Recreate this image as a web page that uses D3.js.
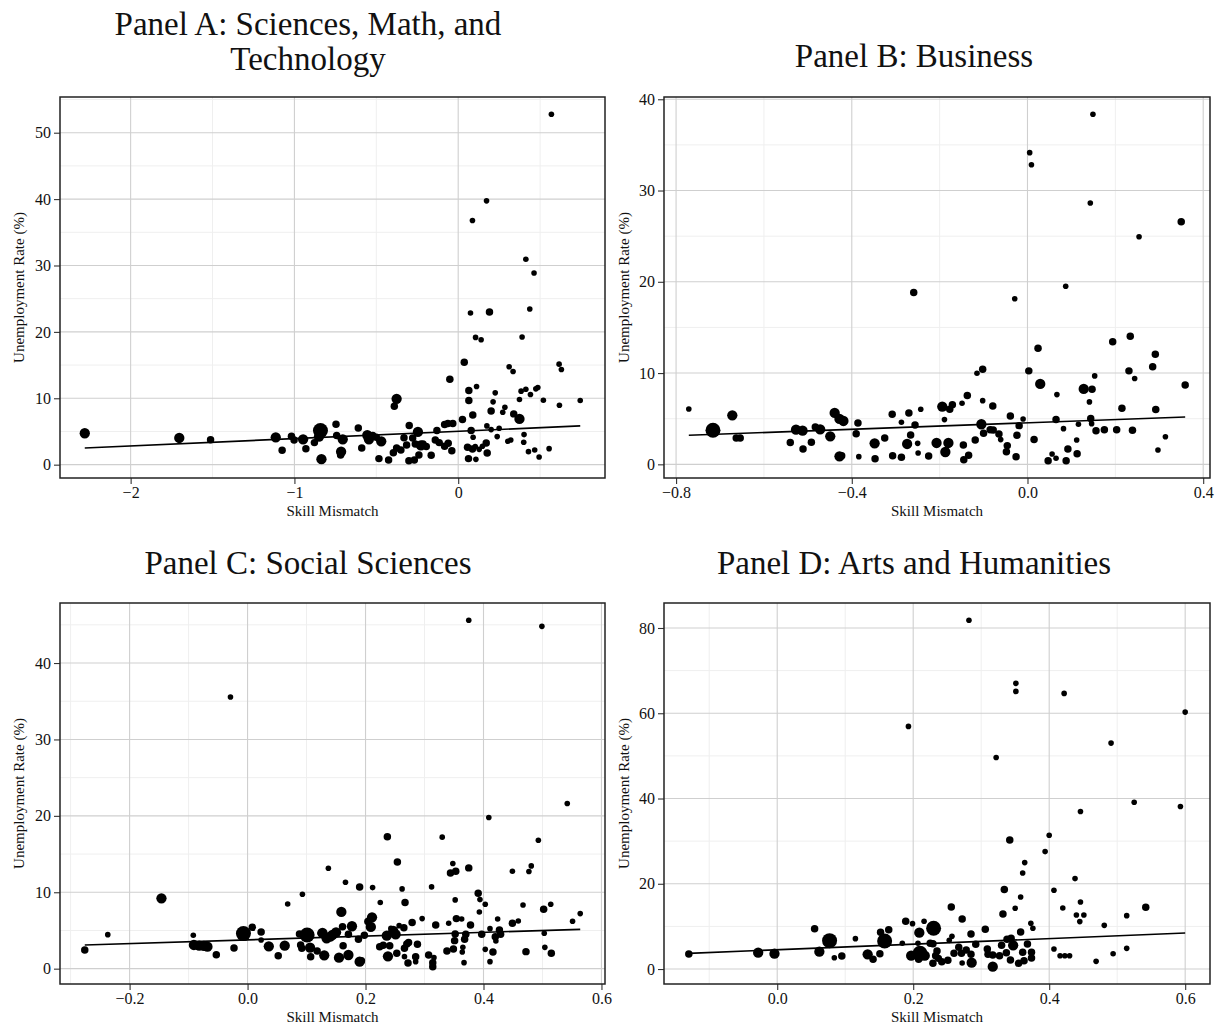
<!DOCTYPE html>
<html>
<head>
<meta charset="utf-8">
<script src="https://cdn.jsdelivr.net/npm/d3@7"></script>
<style>
  html, body { margin: 0; padding: 0; background: #fff; }
  svg { display: block; }
  text { font-family: "Liberation Serif", "DejaVu Serif", serif; fill: #111; }
</style>
</head>
<body>
<svg id="chart" width="1217" height="1025"></svg>
<script>
// ---------------- DATA ----------------
// each point: [skill mismatch, unemployment rate (%), relative weight]
const titles = [
  ["Panel A: Sciences, Math, and", "Technology"],
  ["Panel B: Business"],
  ["Panel C: Social Sciences"],
  ["Panel D: Arts and Humanities"]
];
const xAxisTitle = "Skill Mismatch";
const yAxisTitle = "Unemployment Rate (%)";

const xTicksA = [-2, -1, 0];
const yTicksA = [0, 10, 20, 30, 40, 50];
const xTicksB = [-0.8, -0.4, 0.0, 0.4];
const yTicksB = [0, 10, 20, 30, 40];
const xTicksC = [-0.2, 0.0, 0.2, 0.4, 0.6];
const yTicksC = [0, 10, 20, 30, 40];
const xTicksD = [0.0, 0.2, 0.4, 0.6];
const yTicksD = [0, 20, 40, 60, 80];

// fitted lines: [intercept, slope]
const fitA = [5.02, 1.097];
const fitB = [4.55, 1.779];
const fitC = [3.77, 2.44];
const fitD = [4.53, 6.53];

const pointsA = [
  [-2.28,4.73,2.5],[-1.703,4.02,2.5],[-1.512,3.77,1.6],[-1.114,4.12,2.5],[-1.075,2.16,1.6],
  [-1.018,4.28,1.6],[-1.002,3.72,1.6],[-0.947,3.82,2.5],[-0.930,2.41,1.6],[-0.878,3.32,1.6],
  [-0.841,5.13,4],[-0.850,4.23,2.5],[-0.835,0.82,2.5],[-0.746,6.09,1.6],[-0.742,4.38,1.6],
  [-0.705,3.82,2.5],[-0.715,1.96,2.5],[-0.718,1.46,1.6],[-0.610,5.53,1.6],[-0.589,2.52,1.6],
  [-0.555,4.43,2.5],[-0.545,3.82,2.5],[-0.522,4.38,1.6],[-0.500,4.12,1.6],[-0.470,3.52,2.5],
  [-0.484,0.91,1.6],[-0.425,0.70,1.6],[-0.396,1.81,1.6],[-0.376,2.52,1.6],[-0.376,9.91,2.5],
  [-0.390,8.80,1.6],[-0.350,2.21,1.6],[-0.331,4.07,1.6],[-0.315,2.97,1.6],[-0.299,5.89,1.6],
  [-0.301,0.60,1.6],[-0.278,4.02,1.6],[-0.268,0.70,1.6],[-0.262,3.12,1.6],[-0.246,4.93,2.5],
  [-0.240,1.46,1.6],[-0.228,2.92,2.5],[-0.215,3.12,1.6],[-0.195,2.72,1.6],[-0.165,1.41,1.6],
  [-0.140,3.72,1.6],[-0.130,5.13,1.6],[-0.116,3.32,1.6],[-0.083,2.77,1.6],[-0.061,3.22,1.6],
  [-0.039,2.11,1.6],[-0.083,6.04,1.6],[-0.063,6.19,1.6],[-0.033,6.19,1.6],[-0.051,12.88,1.6],
  [0.026,6.79,1.6],[0.037,15.44,1.6],[0.065,11.17,1.6],[0.065,9.66,1.6],[0.075,22.84,1],
  [0.087,36.77,1],[0.079,5.13,1.6],[0.091,4.12,1],[0.089,7.49,1.6],[0.057,2.62,1.6],
  [0.087,2.36,1.6],[0.104,2.72,1],[0.128,2.31,1],[0.148,2.77,1],[0.171,3.27,1.6],
  [0.177,1.76,1.6],[0.063,0.91,1.6],[0.108,0.80,1],[0.106,19.17,1],[0.112,11.77,1],
  [0.140,18.81,1],[0.173,39.74,1],[0.175,5.84,1],[0.191,22.99,1.6],[0.201,5.28,1],
  [0.201,8.10,1.6],[0.213,9.46,1],[0.226,10.82,1],[0.238,4.23,1],[0.250,5.48,1],
  [0.272,7.90,1],[0.285,8.65,1],[0.303,3.52,1],[0.321,3.72,1],[0.311,14.74,1],
  [0.335,14.03,1],[0.339,7.65,1.6],[0.374,6.89,2.5],[0.374,9.81,1],[0.384,11.07,1],
  [0.390,19.22,1],[0.400,3.37,1],[0.402,4.53,1],[0.413,11.37,1],[0.413,30.94,1],
  [0.429,1.96,1],[0.437,23.44,1],[0.441,10.56,1],[0.463,28.87,1],[0.467,2.21,1],
  [0.474,11.42,1],[0.486,11.62,1],[0.494,1.16,1],[0.520,9.71,1],[0.555,2.41,1],
  [0.569,52.77,1],[0.616,15.14,1],[0.630,14.34,1],[0.618,8.95,1],[0.745,9.66,1]
];

const pointsB = [
  [-0.771,6.07,1],[-0.716,3.73,4],[-0.672,5.37,2.5],[-0.663,2.89,1.6],[-0.654,2.89,1.6],
  [-0.540,2.38,1.6],[-0.527,3.80,2.5],[-0.512,3.69,2.5],[-0.511,1.68,1.6],[-0.492,2.41,1.6],
  [-0.483,4.10,1.6],[-0.472,3.84,2.5],[-0.449,3.07,2.5],[-0.439,5.63,2.5],[-0.428,4.97,2.5],
  [-0.419,4.75,2.5],[-0.428,0.88,2.5],[-0.423,0.95,1.6],[-0.390,3.36,1.6],[-0.386,4.53,1.6],
  [-0.384,0.84,1],[-0.348,2.30,2.5],[-0.347,0.62,1.6],[-0.325,2.89,1.6],[-0.308,5.48,1.6],
  [-0.307,0.95,1.6],[-0.287,4.61,1],[-0.287,0.77,1.6],[-0.274,2.23,2.5],[-0.270,5.63,1.6],
  [-0.266,3.22,1.6],[-0.259,18.83,1.6],[-0.256,4.31,1.6],[-0.250,2.30,1],[-0.249,1.24,1],
  [-0.243,6.03,1],[-0.225,0.91,1.6],[-0.207,2.34,2.5],[-0.194,6.33,2.5],[-0.189,4.90,1],
  [-0.187,1.35,2.5],[-0.180,2.34,2.5],[-0.177,6.03,1.6],[-0.171,6.54,1.6],[-0.149,6.69,1],
  [-0.146,2.12,1.6],[-0.145,0.51,1.6],[-0.137,7.53,1.6],[-0.134,0.99,1.6],[-0.119,2.67,1.6],
  [-0.115,9.98,1],[-0.102,10.42,1.6],[-0.102,6.98,1],[-0.105,4.39,2.5],[-0.100,3.40,1.6],
  [-0.085,3.80,1.6],[-0.078,3.77,1.6],[-0.079,6.40,1.6],[-0.065,3.33,1.6],[-0.061,2.71,1],
  [-0.048,1.39,1.6],[-0.046,2.05,1.6],[-0.039,5.30,1.6],[-0.029,18.14,1],[-0.026,0.84,1.6],
  [-0.024,3.18,1.6],[-0.019,4.24,1.6],[-0.010,4.97,1],[0.003,10.24,1.6],[0.005,34.15,1],
  [0.009,32.83,1],[0.015,2.71,1.6],[0.024,12.72,1.6],[0.029,8.81,2.5],[0.047,0.40,1.6],
  [0.056,1.13,1],[0.065,0.66,1],[0.065,4.90,1.6],[0.067,7.64,1],[0.082,3.91,1],
  [0.087,19.52,1],[0.088,0.40,1.6],[0.092,1.68,1.6],[0.112,2.67,1],[0.113,1.17,1.6],
  [0.116,4.39,1],[0.128,8.26,2.5],[0.141,6.84,1],[0.143,28.63,1],[0.144,5.01,1.6],
  [0.146,4.46,1],[0.147,8.23,1.6],[0.149,38.35,1],[0.153,9.69,1],[0.156,3.69,1.6],
  [0.175,3.80,1.6],[0.194,13.42,1.6],[0.203,3.80,1.6],[0.215,6.14,1.6],[0.231,10.24,1.6],
  [0.234,14.04,1.6],[0.239,3.73,1.6],[0.244,9.40,1],[0.254,24.94,1],[0.285,10.68,1.6],
  [0.291,12.07,1.6],[0.292,6.00,1.6],[0.297,1.57,1],[0.314,3.03,1],[0.350,26.58,1.6],
  [0.359,8.70,1.6]
];

const pointsC = [
  [-0.276,2.45,1.6],[-0.237,4.45,1],[-0.146,9.21,2.5],[-0.092,4.37,1],[-0.091,3.10,2.5],
  [-0.082,3.01,2.5],[-0.074,2.97,2.5],[-0.068,2.88,2.5],[-0.053,1.83,1.6],[-0.029,35.55,1],
  [-0.023,2.71,1.6],[-0.007,4.59,4],[0.008,5.41,1.6],[0.023,4.80,1.6],[0.023,3.76,1],
  [0.036,2.93,2.5],[0.052,1.70,1.6],[0.063,3.01,2.5],[0.068,8.47,1],[0.093,9.74,1],
  [0.088,4.54,1.6],[0.101,4.41,4],[0.090,3.10,1.6],[0.092,2.66,1.6],[0.106,2.75,2.5],
  [0.107,1.57,1.6],[0.118,2.31,1.6],[0.123,4.63,1],[0.127,4.67,2.5],[0.130,1.75,2.5],
  [0.134,3.97,2.5],[0.137,13.14,1],[0.140,4.19,2.5],[0.144,4.41,2.5],[0.150,4.76,2.5],
  [0.155,1.44,2.5],[0.159,7.42,2.5],[0.161,5.50,1.6],[0.162,3.01,1.6],[0.171,1.79,2.5],
  [0.171,4.50,1.6],[0.166,11.31,1],[0.177,5.55,2.5],[0.188,3.84,1.6],[0.190,10.70,1.6],
  [0.190,0.92,2.5],[0.193,1.05,1.6],[0.198,4.37,1.6],[0.204,6.16,1.6],[0.209,5.46,2.5],
  [0.211,6.72,2.5],[0.212,10.61,1],[0.225,8.65,1],[0.224,2.88,1.6],[0.230,3.06,1.6],
  [0.236,4.32,2.5],[0.238,1.62,2.5],[0.237,17.25,1.6],[0.241,3.01,1.6],[0.243,5.28,1],
  [0.247,4.93,2.5],[0.251,4.50,2.5],[0.254,13.97,1.6],[0.253,2.01,1.6],[0.257,5.63,1],
  [0.262,10.44,1],[0.265,5.37,1.6],[0.266,1.57,1],[0.267,8.65,1.6],[0.266,2.66,1.6],
  [0.270,3.23,1.6],[0.273,3.41,1.6],[0.272,0.74,1.6],[0.279,6.03,1.6],[0.285,1.57,1.6],
  [0.285,0.92,1],[0.288,3.19,1.6],[0.296,6.55,1],[0.307,1.79,1.6],[0.312,10.70,1],
  [0.314,0.79,1.6],[0.314,0.26,1.6],[0.316,1.44,1],[0.319,5.72,1.6],[0.330,17.21,1],
  [0.338,2.31,1.6],[0.341,5.94,1],[0.344,12.53,1.6],[0.348,13.76,1],[0.349,2.58,1.6],
  [0.352,9.00,1],[0.351,3.67,1.6],[0.353,12.75,1.6],[0.354,6.55,1.6],[0.352,4.54,1.6],
  [0.363,6.51,1],[0.365,2.79,1],[0.364,2.18,1],[0.367,0.79,1],[0.368,3.84,1.6],
  [0.370,4.50,1.6],[0.375,45.59,1],[0.375,13.19,1.6],[0.378,5.72,1.6],[0.391,9.87,1.6],
  [0.393,7.42,1],[0.394,9.04,1],[0.397,4.50,1.6],[0.403,2.53,1],[0.403,8.43,1],
  [0.409,19.78,1],[0.411,5.24,1],[0.411,0.92,1],[0.416,2.18,1.6],[0.420,4.19,1.6],
  [0.421,3.62,1],[0.424,6.51,1],[0.427,5.07,1.6],[0.429,4.50,1.6],[0.449,5.94,1.6],
  [0.449,12.75,1],[0.459,6.24,1],[0.467,8.34,1],[0.472,2.23,1.6],[0.477,12.71,1],
  [0.481,13.45,1],[0.493,16.81,1],[0.499,44.80,1],[0.502,7.77,1.6],[0.503,4.63,1],
  [0.504,2.79,1],[0.514,8.43,1],[0.515,2.01,1.6],[0.542,21.62,1],[0.551,6.20,1],
  [0.564,7.21,1]
];

const pointsD = [
  [-0.130,3.52,1.6],[-0.028,3.84,2.5],[-0.004,3.60,2.5],[0.055,9.47,1.6],[0.062,4.07,2.5],
  [0.077,6.65,4],[0.084,2.66,1],[0.095,3.05,1.6],[0.115,7.12,1],[0.133,3.44,2.5],
  [0.141,2.27,1.6],[0.151,3.60,1.6],[0.152,8.61,1.6],[0.158,6.58,4],[0.164,9.24,1.6],
  [0.184,6.03,1],[0.189,11.19,1.6],[0.193,56.91,1],[0.199,10.65,1],[0.197,3.13,2.5],
  [0.209,8.53,2.5],[0.207,6.03,1],[0.210,3.68,4],[0.208,2.27,1.6],[0.216,11.19,1],
  [0.217,3.13,2.5],[0.225,6.03,1.6],[0.229,5.95,1.6],[0.230,9.55,4],[0.233,3.13,1.6],
  [0.235,4.23,1.6],[0.229,1.33,1.6],[0.237,2.50,1.6],[0.242,1.72,1.6],[0.251,2.04,1.6],
  [0.253,6.73,1],[0.256,14.56,1.6],[0.257,7.67,1],[0.260,3.68,1.6],[0.267,5.09,1.6],
  [0.271,3.68,1.6],[0.272,11.74,1.6],[0.272,1.41,1],[0.278,4.46,1.6],[0.282,81.80,1],
  [0.285,3.44,1.6],[0.285,8.22,1.6],[0.286,1.49,2.5],[0.292,5.79,1.6],[0.306,9.31,1.6],
  [0.309,4.70,1.6],[0.310,3.44,1.6],[0.317,0.55,2.5],[0.317,3.29,1.6],[0.322,49.63,1],
  [0.327,3.13,1.6],[0.330,5.56,1.6],[0.332,12.92,1.6],[0.334,18.63,1.6],[0.337,3.84,1.6],
  [0.338,6.97,1.6],[0.342,30.29,1.6],[0.343,2.11,1.6],[0.344,7.20,1.6],[0.347,5.56,2.5],
  [0.350,14.25,1],[0.351,67.01,1],[0.351,65.13,1],[0.355,1.33,1.6],[0.358,8.69,1.6],
  [0.358,16.91,1],[0.361,22.54,1],[0.364,24.97,1],[0.361,3.91,1.6],[0.363,1.96,1.6],
  [0.368,5.87,1.6],[0.374,3.91,1.6],[0.374,2.58,1.6],[0.373,10.72,1],[0.376,9.55,1],
  [0.394,27.55,1],[0.400,31.39,1],[0.407,18.47,1],[0.407,4.70,1],[0.416,3.13,1],
  [0.420,14.32,1],[0.422,64.66,1],[0.423,3.13,1],[0.430,3.13,1],[0.438,21.21,1],
  [0.440,12.68,1],[0.445,11.12,1],[0.446,15.73,1],[0.446,36.95,1],[0.451,12.68,1],
  [0.469,1.80,1],[0.481,10.25,1],[0.491,53.00,1],[0.494,3.60,1],[0.514,12.52,1],
  [0.514,4.85,1],[0.525,39.14,1],[0.542,14.48,1.6],[0.593,38.12,1],[0.600,60.27,1]
];

// ---------------- LAYOUT ----------------
const panels = [
  { title: titles[0], pts: pointsA, fit: fitA, xTicks: xTicksA, yTicks: yTicksA, fmt: "d",
    box: { l: 60, r: 605, t: 97, b: 478 }, cx: 308, ty: [35, 70], yTitleX: 19 },
  { title: titles[1], pts: pointsB, fit: fitB, xTicks: xTicksB, yTicks: yTicksB, fmt: ".1f",
    box: { l: 664, r: 1210, t: 97, b: 478 }, cx: 914, ty: [67], yTitleX: 624 },
  { title: titles[2], pts: pointsC, fit: fitC, xTicks: xTicksC, yTicks: yTicksC, fmt: ".1f",
    box: { l: 60, r: 605, t: 603, b: 984 }, cx: 308, ty: [574], yTitleX: 19 },
  { title: titles[3], pts: pointsD, fit: fitD, xTicks: xTicksD, yTicks: yTicksD, fmt: ".1f",
    box: { l: 664, r: 1210, t: 603, b: 984 }, cx: 914, ty: [574], yTitleX: 624 }
];

const svg = d3.select("#chart");
const rScale = d3.scaleLinear().domain([1, 4]).range([2.8, 7.5]);

function expand(ext) {
  const pad = (ext[1] - ext[0]) * 0.05;
  return [ext[0] - pad, ext[1] + pad];
}
function minorTicks(major, domain) {
  const step = major[1] - major[0];
  const out = [];
  for (let v = major[0] - step / 2; v <= domain[1] + 1e-9; v += step) {
    if (v >= domain[0]) out.push(+v.toFixed(6));
  }
  return out;
}

panels.forEach(p => {
  const b = p.box;
  const xDom = expand(d3.extent(p.pts, d => d[0]));
  const yDom = expand(d3.extent(p.pts, d => d[1]));
  const x = d3.scaleLinear().domain(xDom).range([b.l, b.r]);
  const y = d3.scaleLinear().domain(yDom).range([b.b, b.t]);
  const g = svg.append("g");

  // minor grid
  const xMinor = minorTicks(p.xTicks, xDom);
  const yMinor = minorTicks(p.yTicks, yDom);
  g.append("g").selectAll("line").data(xMinor).join("line")
    .attr("x1", d => x(d)).attr("x2", d => x(d)).attr("y1", b.t).attr("y2", b.b)
    .attr("stroke", "#efefef").attr("stroke-width", 1);
  g.append("g").selectAll("line").data(yMinor).join("line")
    .attr("y1", d => y(d)).attr("y2", d => y(d)).attr("x1", b.l).attr("x2", b.r)
    .attr("stroke", "#efefef").attr("stroke-width", 1);
  // major grid
  g.append("g").selectAll("line").data(p.xTicks).join("line")
    .attr("x1", d => x(d)).attr("x2", d => x(d)).attr("y1", b.t).attr("y2", b.b)
    .attr("stroke", "#cfcfcf").attr("stroke-width", 1.1);
  g.append("g").selectAll("line").data(p.yTicks).join("line")
    .attr("y1", d => y(d)).attr("y2", d => y(d)).attr("x1", b.l).attr("x2", b.r)
    .attr("stroke", "#cfcfcf").attr("stroke-width", 1.1);

  // points
  g.append("g").selectAll("circle").data(p.pts).join("circle")
    .attr("cx", d => x(d[0])).attr("cy", d => y(d[1])).attr("r", d => rScale(d[2]))
    .attr("fill", "#000");

  // fitted line
  const xe = d3.extent(p.pts, d => d[0]);
  const line = d3.line().x(d => x(d)).y(d => y(p.fit[0] + p.fit[1] * d));
  g.append("path").datum(xe).attr("d", line)
    .attr("fill", "none").attr("stroke", "#000").attr("stroke-width", 1.6);

  // axes
  const xAxis = d3.axisBottom(x).tickValues(p.xTicks).tickFormat(d3.format(p.fmt)).tickSize(6).tickPadding(3);
  const yAxis = d3.axisLeft(y).tickValues(p.yTicks).tickFormat(d3.format("d")).tickSize(6).tickPadding(3);
  const gx = g.append("g").attr("transform", `translate(0,${b.b})`).call(xAxis);
  const gy = g.append("g").attr("transform", `translate(${b.l},0)`).call(yAxis);
  [gx, gy].forEach(ax => {
    ax.select(".domain").remove();
    ax.selectAll(".tick line").attr("stroke", "#333").attr("stroke-width", 1.1);
    ax.selectAll(".tick text").attr("font-family", "Liberation Serif").attr("font-size", 16).attr("fill", "#222");
  });

  // panel border
  g.append("rect").attr("x", b.l).attr("y", b.t).attr("width", b.r - b.l).attr("height", b.b - b.t)
    .attr("fill", "none").attr("stroke", "#222").attr("stroke-width", 1.5);

  // axis titles
  g.append("text").attr("x", (b.l + b.r) / 2).attr("y", b.b + 38)
    .attr("text-anchor", "middle").attr("font-size", 15).text(xAxisTitle);
  g.append("text").attr("transform", `translate(${p.yTitleX + 5},${(b.t + b.b) / 2}) rotate(-90)`)
    .attr("text-anchor", "middle").attr("font-size", 15).text(yAxisTitle);

  // panel title
  p.title.forEach((t, i) => {
    g.append("text").attr("x", p.cx).attr("y", p.ty[i])
      .attr("text-anchor", "middle").attr("font-size", 33).text(t);
  });
});
</script>
</body>
</html>
